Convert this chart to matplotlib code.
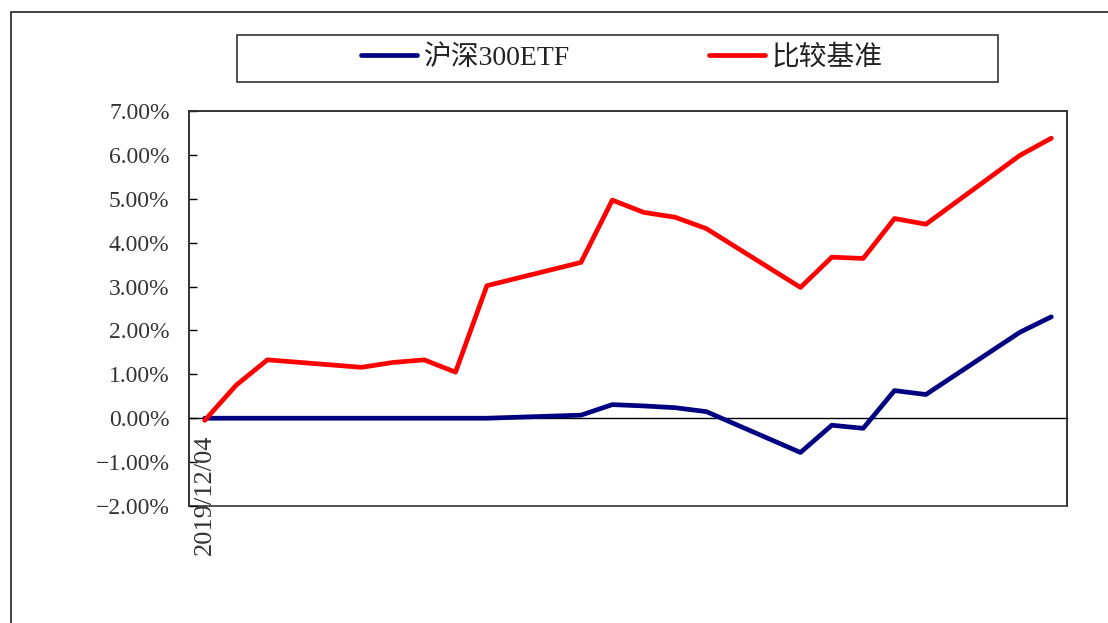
import datetime
import matplotlib
matplotlib.use('Agg')
import matplotlib.pyplot as plt
import matplotlib.dates as mdates
from matplotlib.patches import Rectangle
from matplotlib.ticker import FuncFormatter

# trading days, values in percent
dates = ['2019/12/04', '2019/12/05', '2019/12/06', '2019/12/09', '2019/12/10',
         '2019/12/11', '2019/12/12', '2019/12/13', '2019/12/16', '2019/12/17',
         '2019/12/18', '2019/12/19', '2019/12/20', '2019/12/23', '2019/12/24',
         '2019/12/25', '2019/12/26', '2019/12/27', '2019/12/30', '2019/12/31']
etf = [0.00, 0.00, 0.00, 0.00, 0.00, 0.00, 0.00, 0.00, 0.07, 0.31,
       0.28, 0.24, 0.15, -0.78, -0.16, -0.23, 0.63, 0.54, 1.96, 2.31]
bench = [-0.05, 0.75, 1.33, 1.16, 1.27, 1.33, 1.05, 3.02, 3.55, 4.97,
         4.69, 4.58, 4.32, 2.98, 3.67, 3.64, 4.55, 4.42, 5.99, 6.38]
series_names = ['沪深300ETF', '比较基准']
yticks = [-2, -1, 0, 1, 2, 3, 4, 5, 6, 7]

plt.rcParams['font.family'] = ['Liberation Serif', 'Noto Sans CJK SC']

W, H = 1108, 623
fig = plt.figure(figsize=(W / 100, H / 100), dpi=100)
ax = fig.add_axes([189 / W, 1 - 506 / H, (1067 - 189) / W, (506 - 111) / H])

x = [datetime.datetime.strptime(d, '%Y/%m/%d') for d in dates]
ax.plot(x, etf, color='#000080', lw=3.4, label=series_names[0], solid_capstyle='round', zorder=3)
ax.plot(x, bench, color='#ff0000', lw=3.4, label=series_names[1], solid_capstyle='round', zorder=3)

x0 = mdates.date2num(x[0])
ax.set_xlim(x0 - 0.5, mdates.date2num(x[-1]) + 0.5)
ax.set_ylim(-2, 7)
ax.set_yticks(yticks)
ax.yaxis.set_major_formatter(FuncFormatter(lambda v, p: f'{v:.2f}%'.replace('-', '\u2212')))
ax.tick_params(axis='y', direction='in', length=6, width=1, pad=14, labelsize=17,
               labelcolor='#333333')

# category axis crosses at zero
ax.spines['bottom'].set_position(('data', 0))
ax.spines['bottom'].set_linewidth(1)
ax.set_xticks([x0])
ax.set_xticklabels([dates[0]], rotation=90)
ax.tick_params(axis='x', length=0, pad=12, labelsize=19, labelcolor='#333333')
for s in ['top', 'left', 'right']:
    ax.spines[s].set_color('#333333')
    ax.spines[s].set_linewidth(1.2)
ax.add_patch(Rectangle((0, 0), 1, 1, transform=ax.transAxes, fill=False,
                       ec='#333333', lw=1.2, clip_on=False))

# legend
fig.legend(frameon=False, ncol=2, loc='center', bbox_to_anchor=(622 / W, 1 - 58 / H),
           fontsize=20, handlelength=2.0, handletextpad=0.25, columnspacing=5.0,
           labelcolor='#222222')
fig.add_artist(Rectangle((237 / W, 1 - 82 / H), 761 / W, 47 / H, transform=fig.transFigure,
                         fill=False, ec='#333333', lw=1.2))

# outer chart border
fig.add_artist(Rectangle((11 / W, -0.1), 1.1, 1.1 - 12 / H, transform=fig.transFigure,
                         fill=False, ec='#222222', lw=1.2))

fig.savefig('out.png', dpi=100)
